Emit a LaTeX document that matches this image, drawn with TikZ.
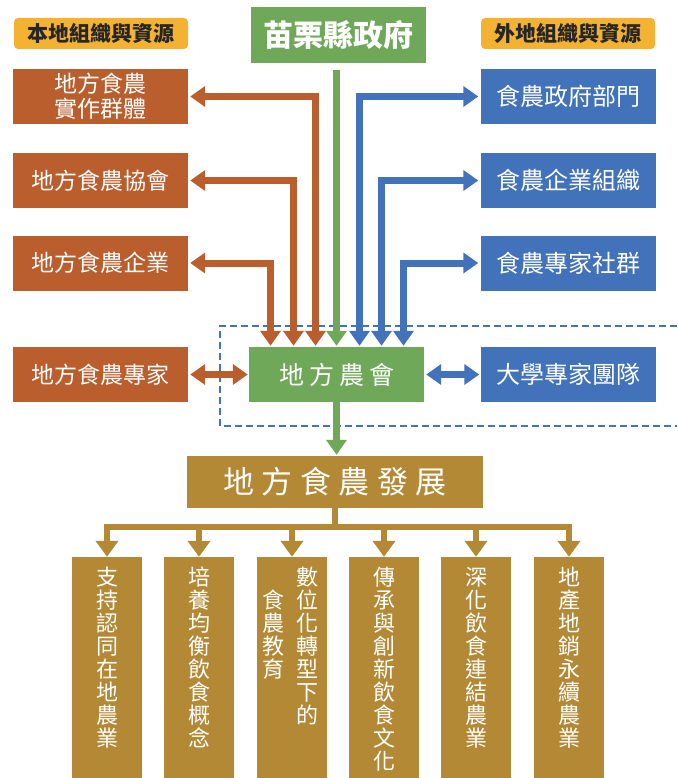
\documentclass[tikz,border=0pt]{standalone}
\usepackage{fontspec}
\newfontfamily\cjk{Noto Sans CJK TC}
\usepackage{tikz}
\usetikzlibrary{arrows.meta}

\definecolor{locorange}{HTML}{BA5E2E}
\definecolor{extblue}{HTML}{4272BA}
\definecolor{govgreen}{HTML}{6FA858}
\definecolor{devtan}{HTML}{B38935}
\definecolor{tagyellow}{HTML}{F4B233}

\tikzset{
  tagbox/.style={fill=tagyellow, rounded corners=4pt, minimum width=174pt, minimum height=31pt,
    inner sep=0pt, text=black!85, font=\cjk\bfseries\fontsize{21}{21}\selectfont},
  box/.style={minimum width=175pt, minimum height=55pt, inner sep=0pt, text=white,
    align=center, font=\cjk\fontsize{23}{25}\selectfont},
  locbox/.style={box, fill=locorange},
  extbox/.style={box, fill=extblue},
  govbox/.style={box, fill=govgreen, minimum height=56pt, font=\cjk\bfseries\fontsize{30}{30}\selectfont},
  farmbox/.style={box, fill=govgreen, font=\cjk\fontsize{25}{25}\selectfont\addfontfeature{LetterSpace=20}},
  devbox/.style={box, fill=devtan, minimum width=296pt, minimum height=52pt,
    font=\cjk\fontsize{31}{31}\selectfont\addfontfeature{LetterSpace=24}},
  colbox/.style={fill=devtan, minimum width=70pt, minimum height=222pt, inner sep=0pt},
  coltext/.style={anchor=north, inner sep=0pt, text=white, align=center,
    font=\cjk\fontsize{22}{23}\selectfont},
  flow/.style={line width=7pt},
  tipbig/.tip={Triangle[width=20pt,length=15pt]},
  orangearrow/.style={flow, draw=locorange, tipbig-tipbig, shorten <=2pt, shorten >=1pt},
  bluearrow/.style={flow, draw=extblue, tipbig-tipbig, shorten <=2pt, shorten >=1pt},
  greenarrow/.style={flow, draw=govgreen, -tipbig, shorten >=1pt},
  tanarrow/.style={line width=6.5pt, draw=devtan, -{Triangle[width=22pt,length=16pt]}},
  dashedge/.style={draw=extblue, line width=1.4pt, dash pattern=on 7pt off 4pt}
}

\begin{document}
\begin{tikzpicture}[x=1pt, y=-1pt]
\useasboundingbox (0,0) rectangle (677,778);

% Dashed frame round the farmers' association
\draw[dashedge] (677,326) -| (220,426) -- (677,426);

% Headings
\node[tagbox] (lochead) at (101,33.5) {本地組織與資源};
\node[tagbox] (exthead) at (568,33.5) {外地組織與資源};
\node[govbox] (gov) at (338.5,35) {苗栗縣政府};

% Local organisations
\node[locbox] (loc1) at (100.5,96.5) {地方食農\\實作群體};
\node[locbox] (loc2) at (100.5,180.5) {地方食農協會};
\node[locbox] (loc3) at (100.5,263) {地方食農企業};
\node[locbox] (loc4) at (100.5,374.5) {地方食農專家};

% Outside organisations
\node[extbox, font=\cjk\fontsize{24}{24}\selectfont] (ext1) at (568,96.5) {食農政府部門};
\node[extbox, font=\cjk\fontsize{24}{24}\selectfont] (ext2) at (568,180.5) {食農企業組織};
\node[extbox, font=\cjk\fontsize{24}{24}\selectfont] (ext3) at (568,263) {食農專家社群};
\node[extbox, font=\cjk\fontsize{24}{24}\selectfont] (ext4) at (568,374.5) {大學專家團隊};

% Centre
\node[farmbox] (farm) at (336.5,374.5) {地方農會};
\node[devbox] (dev) at (335,482) {地方食農發展};

% Columns
\foreach \x/\n in {107/1,199/2,292/3,384/4,476/5,569/6}
  \node[colbox] (col\n) at (\x,668) {};
\node[coltext] (col1t) at ([yshift=-10pt]col1.north) {支\\持\\認\\同\\在\\地\\農\\業};
\node[coltext] (col2t) at ([yshift=-10pt]col2.north) {培\\養\\均\\衡\\飲\\食\\概\\念};
\node[coltext] (col3t) at ([xshift=15pt,yshift=-10pt]col3.north) {數\\位\\化\\轉\\型\\下\\的};
\node[coltext] (col3u) at ([xshift=-19pt,yshift=-33pt]col3.north) {食\\農\\教\\育};
\node[coltext] (col4t) at ([yshift=-10pt]col4.north) {傳\\承\\與\\創\\新\\飲\\食\\文\\化};
\node[coltext] (col5t) at ([yshift=-10pt]col5.north) {深\\化\\飲\\食\\連\\結\\農\\業};
\node[coltext] (col6t) at ([yshift=-10pt]col6.north) {地\\產\\地\\銷\\永\\續\\農\\業};

% Arrows into the farmers' association
\draw[greenarrow, shorten <=7pt] (gov.south -| farm.north) -- (farm.north);
\draw[orangearrow] (loc1.east) -| ([xshift=-21pt]farm.north);
\draw[orangearrow] (loc2.east) -| ([xshift=-43pt]farm.north);
\draw[orangearrow] (loc3.east) -| ([xshift=-66pt]farm.north);
\draw[bluearrow] (ext1.west) -| ([xshift=23pt]farm.north);
\draw[bluearrow] (ext2.west) -| ([xshift=45pt]farm.north);
\draw[bluearrow] (ext3.west) -| ([xshift=67pt]farm.north);
\draw[orangearrow] (loc4) -- (farm);
\draw[bluearrow] (farm) -- (ext4);

% Down to development and the six aims
\draw[greenarrow] (farm.south) -- (farm.south |- dev.north);
\foreach \n in {1,...,6}
  \draw[tanarrow] (dev.south) -- ++(0,19) -| (col\n.north);
\end{tikzpicture}
\end{document}
